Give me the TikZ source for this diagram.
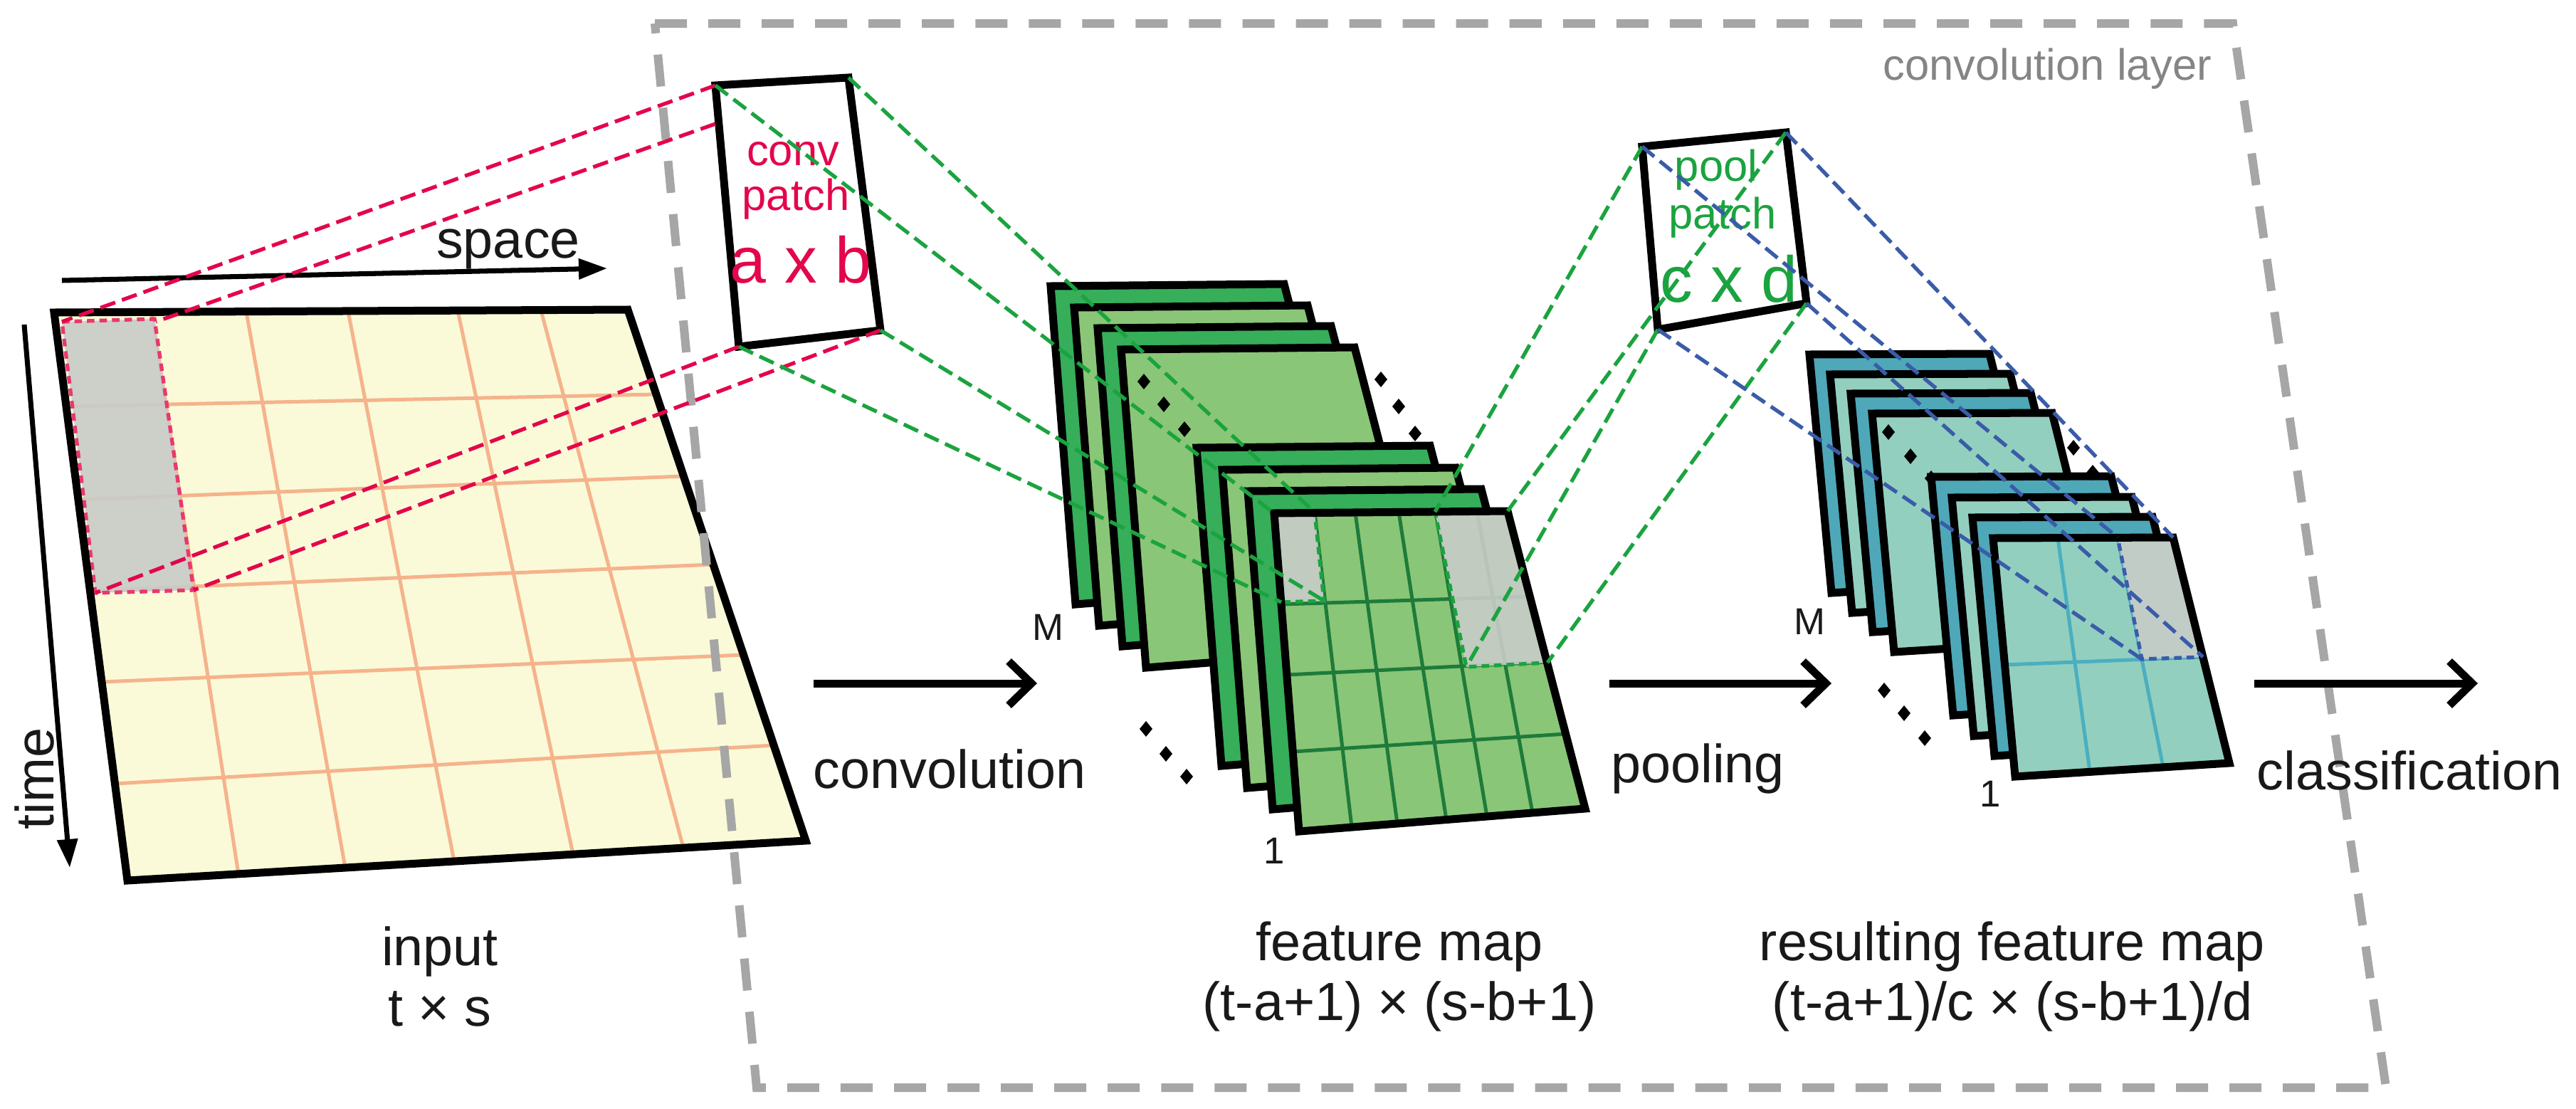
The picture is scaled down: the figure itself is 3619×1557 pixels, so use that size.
\documentclass[tikz,border=0pt]{standalone}
\usepackage{fontspec}
\setmainfont{Liberation Sans}
\usetikzlibrary{arrows.meta}
\definecolor{inyel}{HTML}{FAFAD8}
\definecolor{ingrid}{HTML}{F5B38C}
\definecolor{crim}{HTML}{E3064B}
\definecolor{gdash}{HTML}{1BA33F}
\definecolor{bdash}{HTML}{3A5CA8}
\definecolor{boxgray}{HTML}{A6A6A6}
\definecolor{fdark}{HTML}{36AE5A}
\definecolor{flight}{HTML}{8AC677}
\definecolor{fgrid}{HTML}{1E7B3A}
\definecolor{rdark}{HTML}{4EA8B8}
\definecolor{rlight}{HTML}{93CFBF}
\definecolor{rgrid}{HTML}{4AAFC0}
\definecolor{patchgray}{HTML}{C8CCC8}
\tikzset{
  thickborder/.style={draw=black,line width=0.11cm,line join=miter},
  reddash/.style={crim,line width=1.5pt,dash pattern=on 0.22cm off 0.1cm},
  greendash/.style={gdash,line width=1.5pt,dash pattern=on 0.22cm off 0.1cm},
  bluedash/.style={bdash,line width=1.5pt,dash pattern=on 0.22cm off 0.1cm},
  lbl/.style={font=\fontsize{21.5}{24}\selectfont,text=black!90},
  small/.style={font=\fontsize{15}{17}\selectfont,text=black!90},
  bigarrow/.style={line width=0.11cm,-{Straight Barb[length=0.32cm,width=0.62cm,line width=0.11cm]}},
  thinarrow/.style={line width=2pt,-{Triangle[length=0.4cm,width=0.28cm]}},
  dotm/.style={fill=black,draw=none},
}
\newcommand\fsheet[3]{\filldraw[thickborder,fill=#3] (#1,#2) -- +(328,-3) -- +(437,415) -- +(35,447) -- cycle;}
\newcommand\rsheet[3]{\filldraw[thickborder,fill=#3] (#1,#2) -- +(253,-1) -- +(332,316) -- +(31,335) -- cycle;}
\newcommand\dmd[2]{\fill[dotm] (#1,#2) +(0,-11) -- +(9,0) -- +(0,11) -- +(-9,0) -- cycle;}
\begin{document}
\begin{tikzpicture}[x=0.01cm,y=-0.01cm]
\useasboundingbox (0,0) rectangle (3619,1557);
% ---------- input ----------
\fill[inyel] (76,439) -- (882,435) -- (1132,1181) -- (179,1237) -- cycle;
\begin{scope}[ingrid,line width=0.05cm]
\draw (213,438) -- (335,1228); \draw (346,438) -- (485,1219);
\draw (489,437) -- (638,1210); \draw (643,436) -- (805,1200);
\draw (760,436) -- (960,1191);
\draw (93,571) -- (922,554); \draw (110,702) -- (960,669);
\draw (126,830) -- (1002,793); \draw (143,958) -- (1045,920);
\draw (161,1101) -- (1087,1047);
\end{scope}
\fill[patchgray,opacity=0.9] (87,452) -- (217,448) -- (272,829) -- (134,833) -- cycle;
\draw[crim!80,line width=1.5pt,dash pattern=on 3pt off 2pt] (87,452) -- (217,448) -- (272,829) -- (134,833) -- cycle;
\draw[thickborder] (76,439) -- (882,435) -- (1132,1181) -- (179,1237) -- cycle;
\coordinate (ipTL) at (87,452); \coordinate (ipTR) at (219,452);
\coordinate (ipBR) at (272,829); \coordinate (ipBL) at (134,833);
% axes
\coordinate (sp0) at (87,394); \coordinate (sp1) at (853,377);
\draw[thinarrow] (sp0) -- (sp1);
\node[lbl] (space) at (714,350) {space};
\coordinate (tm0) at (34,456); \coordinate (tm1) at (98,1219);
\draw[thinarrow] (tm0) -- (tm1);
\node[lbl,rotate=90] (time) at (48,1094) {time};
% ---------- convolution layer box ----------
\draw[boxgray,line width=0.12cm,dash pattern=on 0.45cm off 0.3cm] (920,33) -- (3137,33) -- (3352,1528) -- (1063,1528) -- cycle;
\node[font=\fontsize{17.5}{20}\selectfont,text=boxgray!80!black,anchor=east] (cl) at (3120,97) {convolution layer};
% ---------- conv patch ----------
\filldraw[thickborder,fill=white] (1005,120) -- (1192,109) -- (1237,464) -- (1038,487) -- cycle;
\coordinate (cTL) at (1005,120); \coordinate (cL2) at (1005,174);
\coordinate (cTR) at (1192,109); \coordinate (cBR) at (1237,464); \coordinate (cBL) at (1038,487);
\node[font=\fontsize{17.5}{20}\selectfont,text=crim] (t1) at (1114,216) {conv};
\node[font=\fontsize{17.5}{20}\selectfont,text=crim] (t2) at (1118,280) {patch};
\node[font=\fontsize{26}{28}\selectfont,text=crim] (t3) at (1125,365) {a x b};
\draw[reddash] (cTL) -- (ipTL); \draw[reddash] (cL2) -- (ipTR);
\draw[reddash] (cBL) -- (ipBL); \draw[reddash] (cBR) -- (ipBR);
% ---------- feature maps ----------
\fsheet{1476}{402}{fdark} \fsheet{1509}{432}{flight} \fsheet{1542}{461}{fdark} \fsheet{1575}{491}{flight}
\fsheet{1681}{629}{fdark} \fsheet{1717}{660}{flight} \fsheet{1753}{690}{fdark}
\fill[flight] (1790,721) -- (2118,718) -- (2227,1136) -- (1825,1168) -- cycle;
\begin{scope}[fgrid,line width=0.05cm]
\draw (1847,720) -- (1899,1162); \draw (1904,720) -- (1963,1157);
\draw (1965,719) -- (2032,1152); \draw (2017,719) -- (2089,1147);
\draw (2075,718) -- (2153,1142);
\draw (1800,849) -- (2149,838); \draw (1808,948) -- (2173,930);
\draw (1816,1056) -- (2200,1031);
\end{scope}
\filldraw[fill=patchgray,fill opacity=0.9,draw=gdash,line width=1.5pt,dash pattern=on 3pt off 2pt] (1790,721) -- (1847,720) -- (1860,844) -- (1800,846) -- cycle;
\filldraw[fill=patchgray,fill opacity=0.9,draw=gdash,line width=1.5pt,dash pattern=on 3pt off 2pt] (2016,719) -- (2118,718) -- (2174,931) -- (2060,937) -- cycle;
\draw[thickborder] (1790,721) -- (2118,718) -- (2227,1136) -- (1825,1168) -- cycle;
\coordinate (fpTL) at (1790,721); \coordinate (fpTR) at (1847,720);
\coordinate (fpBR) at (1860,844); \coordinate (fpBL) at (1800,846);
\coordinate (gpTL) at (2016,719); \coordinate (gpTR) at (2118,718);
\coordinate (gpBR) at (2174,931); \coordinate (gpBL) at (2060,937);
\dmd{1607}{536}\dmd{1635}{568}\dmd{1664}{603}
\dmd{1940}{533}\dmd{1965}{571}\dmd{1988}{609}
\dmd{1610}{1024}\dmd{1638}{1059}\dmd{1667}{1091}
\node[small] (M1) at (1472,881) {M};
\node[small] (one1) at (1790,1195) {1};
\draw[greendash] (cTL) -- (fpTL); \draw[greendash] (cTR) -- (fpTR);
\draw[greendash] (cBR) -- (fpBR); \draw[greendash] (cBL) -- (fpBL);
% ---------- pool patch ----------
\filldraw[thickborder,fill=white] (2307,206) -- (2509,186) -- (2538,426) -- (2329,463) -- cycle;
\coordinate (pTL) at (2307,206); \coordinate (pTR) at (2509,186);
\coordinate (pBR) at (2538,426); \coordinate (pBL) at (2329,463);
\node[font=\fontsize{17.5}{20}\selectfont,text=gdash] (q1) at (2411,239) {pool};
\node[font=\fontsize{17.5}{20}\selectfont,text=gdash] (q2) at (2420,306) {patch};
\node[font=\fontsize{26}{28}\selectfont,text=gdash] (q3) at (2429,392) {c x d};
\draw[greendash] (pTL) -- (gpTL); \draw[greendash] (pTR) -- (gpTR);
\draw[greendash] (pBR) -- (gpBR); \draw[greendash] (pBL) -- (gpBL);
% ---------- resulting maps ----------
\rsheet{2542}{498}{rdark} \rsheet{2571}{526}{rlight} \rsheet{2600}{553}{rdark} \rsheet{2630}{581}{rlight}
\rsheet{2713}{670}{rdark} \rsheet{2742}{699}{rlight} \rsheet{2771}{727}{rdark}
\fill[rlight] (2800,756) -- (3053,755) -- (3132,1072) -- (2831,1091) -- cycle;
\begin{scope}[rgrid,line width=0.05cm]
\draw (2891,756) -- (2936,1084); \draw (2975,755) -- (3039,1078);
\draw (2816,934) -- (3095,923);
\end{scope}
\filldraw[fill=patchgray,fill opacity=0.9,draw=bdash,line width=1.5pt,dash pattern=on 3pt off 2pt] (2975,755) -- (3053,755) -- (3095,923) -- (3009,926) -- cycle;
\draw[thickborder] (2800,756) -- (3053,755) -- (3132,1072) -- (2831,1091) -- cycle;
\coordinate (rpTL) at (2975,755); \coordinate (rpTR) at (3053,755);
\coordinate (rpBR) at (3095,923); \coordinate (rpBL) at (3009,926);
\dmd{2653}{607}\dmd{2684}{641}\dmd{2713}{672}
\dmd{2913}{629}\dmd{2940}{664}
\dmd{2647}{970}\dmd{2675}{1002}\dmd{2704}{1037}
\node[small] (M2) at (2542,873) {M};
\node[small] (one2) at (2796,1115) {1};
\draw[bluedash] (pTL) -- (rpTL); \draw[bluedash] (pTR) -- (rpTR);
\draw[bluedash] (pBR) -- (rpBR); \draw[bluedash] (pBL) -- (rpBL);
% ---------- arrows & labels ----------
\coordinate (a1) at (1143,960); \coordinate (a2) at (1457,960);
\coordinate (b1) at (2261,960); \coordinate (b2) at (2573,960);
\coordinate (c1) at (3167,960); \coordinate (c2) at (3481,960);
\draw[bigarrow] (a1) -- (a2); \draw[bigarrow] (b1) -- (b2); \draw[bigarrow] (c1) -- (c2);
\node[lbl] (lconv) at (1334,1080) {convolution};
\node[lbl] (lpool) at (2385,1080) {pooling};
\node[lbl] (lclass) at (3385,1082) {classification};
\node[lbl,align=center] (lin) at (618,1372) {input\\t × s};
\node[lbl,align=center] (lfm) at (1966,1372) {feature map\\(t-a+1) × (s-b+1)};
\node[lbl,align=center] (lrfm) at (2827,1372) {resulting feature map\\(t-a+1)/c × (s-b+1)/d};
\end{tikzpicture}
\end{document}
